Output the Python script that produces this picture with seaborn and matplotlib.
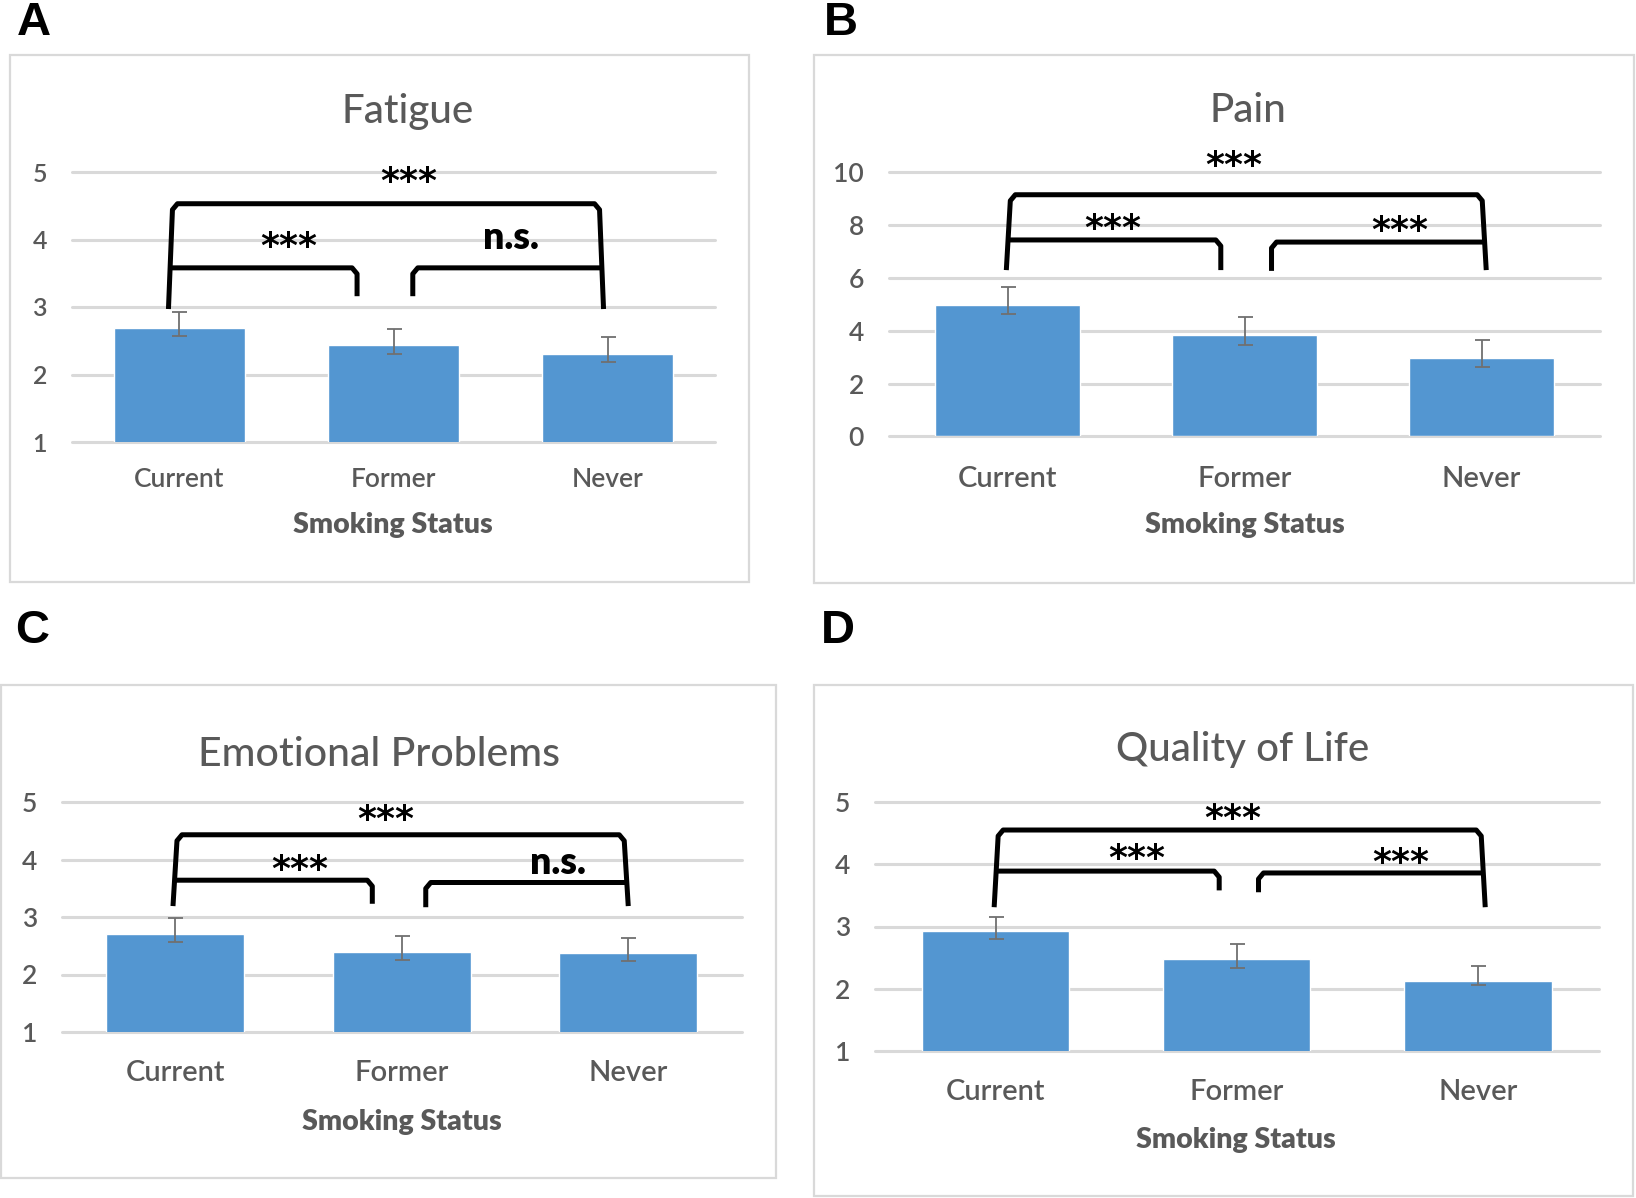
import matplotlib
matplotlib.use("Agg")
import matplotlib.pyplot as plt
import seaborn as sns
import numpy as np
import pandas as pd
from matplotlib.patches import Rectangle

# ---------------- data ----------------
categories = ["Current", "Former", "Never"]

fatigue_mean = [2.69, 2.43, 2.30]
fatigue_lo = [2.57, 2.30, 2.18]
fatigue_hi = [2.93, 2.68, 2.55]

pain_mean = [4.97, 3.83, 2.97]
pain_lo = [4.63, 3.45, 2.63]
pain_hi = [5.65, 4.52, 3.66]

emotional_mean = [2.70, 2.39, 2.37]
emotional_lo = [2.57, 2.25, 2.23]
emotional_hi = [2.99, 2.67, 2.64]

qol_mean = [2.92, 2.48, 2.12]
qol_lo = [2.80, 2.34, 2.06]
qol_hi = [3.15, 2.72, 2.37]

titles = ["Fatigue", "Pain", "Emotional Problems", "Quality of Life"]
panel_letters = ["A", "B", "C", "D"]
ticks_1to5 = [1, 2, 3, 4, 5]
ticks_pain = [0, 2, 4, 6, 8, 10]
xlabel_text = "Smoking Status"

sig_fatigue = ["***", "***", "n.s."]      # overall, current-former, former-never
sig_pain = ["***", "***", "***"]
sig_emotional = ["***", "***", "n.s."]
sig_qol = ["***", "***", "***"]

# ---------------- style ----------------
W, H = 1636, 1198
BAR = "#5396D1"
GRID = "#D9D9D9"
TXT = "#595959"
ERR = "#707070"

sns.set_theme(style="white")
plt.rcParams["font.family"] = ["Lato", "DejaVu Sans"]

fig = plt.figure(figsize=(W / 100, H / 100), dpi=100)
fig.patch.set_facecolor("white")

# layout in pixel units (x0, ytop, x1, ybottom)
layouts = [
    dict(frame=(10, 55, 749, 582), axes=(72, 172, 715, 442), ylim=(1, 5),
         title=(408, 111), xlab=(393, 525), letter=(17, 23), xt=18, fs_title=29, fs_tick=19, fs_y=18),
    dict(frame=(814, 55, 1634, 583), axes=(889, 172, 1600, 436.4), ylim=(0, 10),
         title=(1248, 111), xlab=(1245, 525), letter=(824, 23), xt=21, fs_title=29, fs_tick=21, fs_y=19),
    dict(frame=(1, 685, 776, 1178), axes=(62, 802, 741.5, 1032), ylim=(1, 5),
         title=(379, 754), xlab=(402, 1122), letter=(15, 631), xt=20, fs_title=29.5, fs_tick=21, fs_y=19),
    dict(frame=(814, 685, 1633, 1196), axes=(875, 802, 1598.6, 1051), ylim=(1, 5),
         title=(1243, 750), xlab=(1236, 1140), letter=(821, 631), xt=20, fs_title=29, fs_tick=21, fs_y=19),
]

# brackets (data units): big (xl, xr, ybot, ytop), left small (y, xm, ybot), right small (y, xm, ybot)
brackets = [
    dict(big=(-0.05, 1.98, 2.97, 4.53), left=(3.58, 0.83, 3.16), right=(3.58, 1.09, 3.16),
         txt=[(1.07, 5.01), (0.51, 4.05), (1.55, 4.00)]),
    dict(big=(-0.005, 2.02, 6.29, 9.14), left=(7.43, 0.90, 6.29), right=(7.35, 1.114, 6.26),
         txt=[(0.954, 10.62), (0.443, 8.25), (1.654, 8.15)]),
    dict(big=(-0.01, 2.0, 3.19, 4.43), left=(3.64, 0.87, 3.23), right=(3.60, 1.106, 3.17),
         txt=[(0.93, 4.87), (0.55, 4.0), (1.69, 3.92)]),
    dict(big=(-0.006, 2.03, 3.31, 4.55), left=(3.89, 0.927, 3.58), right=(3.86, 1.09, 3.55),
         txt=[(0.985, 4.89), (0.587, 4.25), (1.678, 4.19)]),
]

means = [fatigue_mean, pain_mean, emotional_mean, qol_mean]
lows = [fatigue_lo, pain_lo, emotional_lo, qol_lo]
highs = [fatigue_hi, pain_hi, emotional_hi, qol_hi]
yticks = [ticks_1to5, ticks_pain, ticks_1to5, ticks_1to5]
sigs = [sig_fatigue, sig_pain, sig_emotional, sig_qol]


def px_rect(x0, y0, x1, y1):
    return [x0 / W, 1 - y1 / H, (x1 - x0) / W, (y1 - y0) / H]


for i in range(4):
    L = layouts[i]
    B = brackets[i]
    fx0, fy0, fx1, fy1 = L["frame"]
    fig.patches.append(Rectangle((fx0 / W, 1 - fy1 / H), (fx1 - fx0) / W, (fy1 - fy0) / H,
                                 transform=fig.transFigure, fill=False, ec=GRID, lw=1.6))
    ax0, ayt, ax1, ayb = L["axes"]
    ax = fig.add_axes(px_rect(ax0, ayt, ax1, ayb))
    df = pd.DataFrame({"Smoking Status": categories, "value": means[i]})
    sns.barplot(data=df, x="Smoking Status", y="value", color=BAR, saturation=1,
                width=0.61, errorbar=None, ax=ax, zorder=2)
    m = np.array(means[i])
    lo = np.array(lows[i])
    hi = np.array(highs[i])
    ax.errorbar(np.arange(3), m, yerr=[m - lo, hi - m], fmt="none", ecolor=ERR,
                elinewidth=1.3, capsize=5.4, capthick=1.3, zorder=3)
    ax.set_xlim(-0.5, 2.5)
    ax.set_ylim(*L["ylim"])
    ax.set_yticks(yticks[i])
    ax.yaxis.grid(True, color=GRID, lw=2.2)
    ax.set_axisbelow(True)
    for gl in ax.get_ygridlines():
        gl.set_clip_on(False)
    for s in ax.spines.values():
        s.set_visible(False)
    ax.set_facecolor("none")
    ax.tick_params(axis="y", length=0, pad=18.0, labelsize=L["fs_y"], labelcolor=TXT)
    ax.tick_params(axis="x", length=0, pad=L["xt"], labelsize=L["fs_tick"], labelcolor=TXT)
    for t in ax.get_yticklabels() + ax.get_xticklabels():
        t.set_fontweight("semibold")
    ax.set_ylabel("")
    # title
    w_ax = ax1 - ax0
    h_ax = ayb - ayt
    tx, ty = L["title"]
    ax.set_title(titles[i], x=(tx - ax0) / w_ax, y=(ayb - ty) / h_ax, pad=0,
                 va="center", fontsize=L["fs_title"], color=TXT, fontweight="medium")
    lx, ly = L["xlab"]
    ax.set_xlabel(xlabel_text, fontsize=20.5, fontweight="heavy", color=TXT)
    ax.xaxis.set_label_coords((lx - ax0) / w_ax, (ayb - ly) / h_ax)
    ax.xaxis.label.set_va("center")
    # panel letter
    px_, py_ = L["letter"]
    fig.text(px_ / W, 1 - py_ / H, panel_letters[i], fontsize=34, fontweight="heavy",
             family=["Liberation Sans", "DejaVu Sans"], va="center", ha="left", color="black")

    # brackets
    ymin, ymax = L["ylim"]
    ppu = h_ax / (ymax - ymin)
    spacing = w_ax / 3.0
    cx = 5 / spacing
    cy = 6 / ppu
    tilt = 4 / spacing
    xl, xr, yb, yt = B["big"]
    kw = dict(color="black", lw=3.6, solid_joinstyle="round", solid_capstyle="butt",
              clip_on=False, zorder=4)
    ax.plot([xl, xl + tilt, xl + tilt + cx, xr - tilt - cx, xr - tilt, xr],
            [yb, yt - cy, yt, yt, yt - cy, yb], **kw)

    def leg_x(x, y, sign):
        return x + sign * tilt * (y - yb) / (yt - cy - yb)

    y1, xm1, yb1 = B["left"]
    xs1 = leg_x(xl, y1, +1)
    ax.plot([xs1, xm1 - cx, xm1, xm1], [y1, y1, y1 - cy, yb1], **kw)
    y2, xm2, yb2 = B["right"]
    xs2 = leg_x(xr, y2, -1)
    ax.plot([xm2, xm2, xm2 + cx, xs2], [yb2, y2 - cy, y2, y2], **kw)

    for (x_, y_), s in zip(B["txt"], sigs[i]):
        if s == "***":
            ax.annotate(s, xy=(x_, y_), xytext=(0, -7.5), textcoords="offset points",
                        ha="center", va="center", fontsize=26, fontweight="bold",
                        family=["DejaVu Sans"], color="black", annotation_clip=False)
        else:
            ax.annotate(s, xy=(x_, y_), xytext=(0, 1), textcoords="offset points",
                        ha="center", va="center", fontsize=27, fontweight="heavy",
                        color="black", annotation_clip=False)

fig.savefig("out.png", dpi=100, facecolor="white")
